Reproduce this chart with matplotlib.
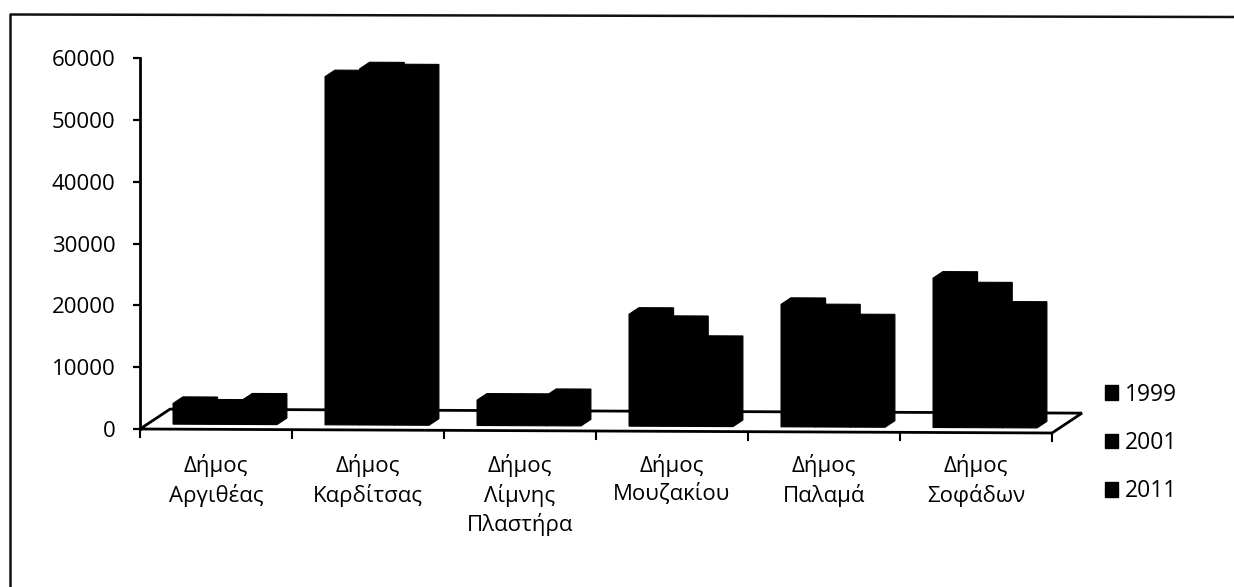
#!/usr/bin/env python3
import matplotlib
matplotlib.use('Agg')
import matplotlib.pyplot as plt
from matplotlib.patches import Patch, Polygon
from matplotlib.transforms import Affine2D
import numpy as np

plt.rcParams['font.family'] = ['Open Sans', 'Noto Sans', 'DejaVu Sans']

categories = ['Δήμος\nΑργιθέας', 'Δήμος\nΚαρδίτσας', 'Δήμος\nΛίμνης\nΠλαστήρα',
              'Δήμος\nΜουζακίου', 'Δήμος\nΠαλαμά', 'Δήμος\nΣοφάδων']
years = ['1999', '2001', '2011']
values_1999 = [3350, 56300, 4100, 18100, 19800, 24150]
values_2001 = [2950, 57600, 4100, 16800, 18800, 22450]
values_2011 = [3950, 57300, 4900, 13600, 17200, 19350]
y_ticks = [0, 10000, 20000, 30000, 40000, 50000, 60000]

W, H = 1234, 587
fig = plt.figure(figsize=(W / 100, H / 100), dpi=100, facecolor='white')

# plot area in pixels, y axis from 58 (top) to 429 (bottom)
x0, x1, y_top, y_bot = 140, 1052, 58, 429
ax = fig.add_axes([x0 / W, 1 - y_bot / H, (x1 - x0) / W, (y_bot - y_top) / H])
ax.set_xlim(0, len(categories))
ax.set_ylim(0, 60000)
ax.patch.set_visible(False)
for s in ['top', 'right', 'bottom']:
    ax.spines[s].set_visible(False)
ax.spines['left'].set_linewidth(2)
ax.set_yticks(y_ticks)
ax.tick_params(axis='y', length=5, width=1.6, labelsize=16, pad=12.5)
ax.set_xticks([])

# the scan is slightly tilted: x axis falls about 4 px over its length
tilt = -4.0 / (x1 - x0)
skew = Affine2D.from_values(1, tilt, 0, 1, 0, -tilt * x0)


def project(x, y, depth=0.0):
    # data position pushed back into the 3d floor, depth 0..1
    px, py = ax.transData.transform((x, y))
    return (px + 30 * depth, py + 20 * depth)


def poly(points, **kw):
    ax.add_patch(Polygon(points, closed=True, transform=skew, clip_on=False, **kw))


n = len(categories)
# floor of the 3d chart
poly([project(0, 0), project(0, 0, 1), project(n, 0, 1), project(n, 0)],
     facecolor='white', edgecolor='black', linewidth=2, joinstyle='miter', zorder=1)
for i in range(n + 1):
    a = project(i, 0)
    ax.plot([a[0], a[0]], [a[1], a[1] - 8], color='black', lw=1.5,
            transform=skew, clip_on=False, zorder=1)

# bars, all black so draw order does not matter
bar_w = 0.228
for j, vals in enumerate([values_1999, values_2001, values_2011]):
    for i, v in enumerate(vals):
        left = i + 0.168 + j * bar_w
        right = left + bar_w
        d0, d1 = 0.25, 0.58
        poly([project(left, 0, d0), project(left, v, d0), project(left, v, d1),
              project(right, v, d1), project(right, 0, d1), project(right, 0, d0)],
             facecolor='black', edgecolor='black', linewidth=0.8, zorder=3)

# category labels
for i, lab in enumerate(categories):
    px, py = project(i + 0.5, 0)
    ax.text(px, H - 454, lab, transform=None, ha='center', va='top',
            fontsize=16, linespacing=1.37, color='black')

# chart frame: only top and left edges are visible in the scan
fig.add_artist(plt.Line2D([10.5 / W, 10.5 / W, 1], [0, 1 - 14.5 / H, 1 - 17 / H],
                          color='#111111', lw=1.8))

handles = [Patch(facecolor='black', edgecolor='black', label=y) for y in years]
fig.legend(handles=handles, loc='center left', bbox_to_anchor=(1105 / W, 1 - 443 / H),
           frameon=False, fontsize=16.5, handlelength=0.56, handleheight=0.62,
           handletextpad=0.3, labelspacing=1.06, borderpad=0, borderaxespad=0)

fig.savefig('out.png', dpi=100, facecolor='white')
